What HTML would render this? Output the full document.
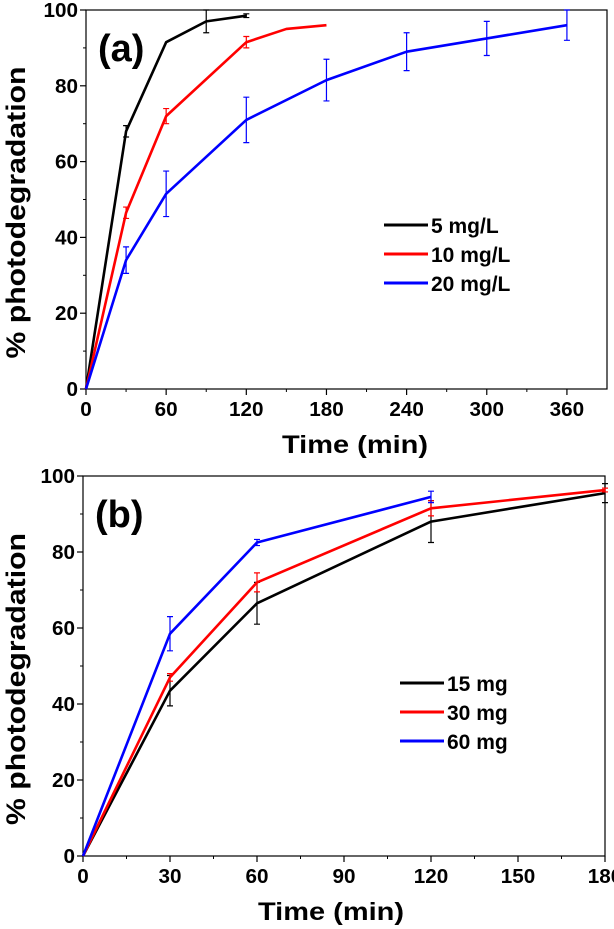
<!DOCTYPE html>
<html><head><meta charset="utf-8">
<style>
body{margin:0;background:#fff;}
svg{display:block;font-family:"Liberation Sans",Arial,sans-serif;font-weight:bold;}
</style></head>
<body>
<svg id="chart" width="614" height="929" viewBox="0 0 614 929"></svg>
<script>
// Panel (a) data
const aSeriesNames = ["5 mg/L","10 mg/L","20 mg/L"];
const aColors = ["#000000","#ff0000","#0000ff"];
const aX = [[0,30,60,90,120],[0,30,60,120,150,180],[0,30,60,120,180,240,300,360]];
const aY = [[0,68,91.5,97,98.5],[0,46.5,72,91.5,95,96],[0,34,51.5,71,81.5,89,92.5,96]];
const aErr = [[0,1.5,0,3,0.5],[0,1.5,2,1.5,0,0],[0,3.5,6,6,5.5,5,4.5,4]];
const aXTicks = [0,60,120,180,240,300,360];
const aYTicks = [0,20,40,60,80,100];
// Panel (b) data
const bSeriesNames = ["15 mg","30 mg","60 mg"];
const bColors = ["#000000","#ff0000","#0000ff"];
const bX = [[0,30,60,120,180],[0,30,60,120,180],[0,30,60,120]];
const bY = [[0,43.5,66.5,88,95.5],[0,47,72,91.5,96.3],[0,58.5,82.5,94.5]];
const bErr = [[0,4,5.5,5.5,2.5],[0,1,2.5,2,0.5],[0,4.5,0.8,1.5]];
const bXTicks = [0,30,60,90,120,150,180];
const bYTicks = [0,20,40,60,80,100];

const NS="http://www.w3.org/2000/svg";
const svg=document.getElementById('chart');
function mk(tag,attrs,parent,text){
  const e=document.createElementNS(NS,tag);
  for(const k in attrs)e.setAttribute(k,attrs[k]);
  if(text!==undefined)e.textContent=text;
  (parent||svg).appendChild(e);return e;
}

function panel(p){
  const g=mk('g',{});
  
  
  const sx=v=>p.x0+(v-0)/(p.xmax)*(p.x1-p.x0);
  const sy=v=>p.y0-(v/100)*(p.y0-p.y1);
  const fr=mk('rect',{x:p.x0,y:p.y1,width:p.x1-p.x0,height:p.y0-p.y1,fill:'none',stroke:'#000','stroke-width':1.2},g);
  
  
  p.xTicks.forEach(t=>{
    const x=sx(t);
    mk('line',{x1:x,x2:x,y1:p.y0,y2:p.y0+6,stroke:'#000','stroke-width':1.2},g);
    const s=String(t);
    const tl=mk('text',{x:x,y:p.y0+27,'text-anchor':'middle','font-size':20,textLength:s.length*11.5,lengthAdjust:'spacingAndGlyphs'},g,s);
    
    
  });
  for(let i=0;i<p.xTicks.length;i++){
    const m=p.xTicks[i]+p.xMinor;
    if(m<p.xmax){const x=sx(m);mk('line',{x1:x,x2:x,y1:p.y0,y2:p.y0+3,stroke:'#000','stroke-width':1},g);}
  }
  p.yTicks.forEach(t=>{
    const y=sy(t);
    mk('line',{x1:p.x0,x2:p.x0-6,y1:y,y2:y,stroke:'#000','stroke-width':1.2},g);
    const s=String(t);
    const tl=mk('text',{x:p.x0-8,y:y+7,'text-anchor':'end','font-size':20,textLength:s.length*11.5,lengthAdjust:'spacingAndGlyphs'},g,s);
    
    
    if(t<100){const ym=sy(t+10);mk('line',{x1:p.x0,x2:p.x0-3,y1:ym,y2:ym,stroke:'#000','stroke-width':1},g);}
  });
  const xt=mk('text',{x:p.xTitleX,y:p.y0+64,'text-anchor':'middle','font-size':25,textLength:146,lengthAdjust:'spacingAndGlyphs'},g,'Time (min)');
  
  
  const yc=(p.y0+p.y1)/2+13;
  const yt=mk('text',{x:0,y:0,'text-anchor':'middle','font-size':27,textLength:292,lengthAdjust:'spacingAndGlyphs',transform:`translate(25,${yc}) rotate(-90)`},g,'% photodegradation');
  
  
  const lab=mk('text',{x:p.x0+12,y:p.y1+51,'font-size':38},g,p.label);
  
  
  p.xs.forEach((xs,s)=>{
    const pts=xs.map((x,i)=>sx(x)+','+sy(p.ys[s][i])).join(' ');
    const pl=mk('polyline',{points:pts,fill:'none',stroke:p.colors[s],'stroke-width':2.6,'stroke-linejoin':'round'},g);
    
    
    xs.forEach((x,i)=>{
      const e=p.errs[s][i]; if(!e)return;
      const cx=sx(x),ya=sy(p.ys[s][i]+e),yb=sy(p.ys[s][i]-e);
      const eb=mk('path',{d:`M${cx},${ya}V${yb}M${cx-3},${ya}H${cx+3}M${cx-3},${yb}H${cx+3}`,stroke:p.colors[s],'stroke-width':1.2,fill:'none'},g);
      
      
    });
    const ly=p.legY+s*29;
    const ll=mk('line',{x1:p.legX,x2:p.legX+44,y1:ly,y2:ly,stroke:p.colors[s],'stroke-width':3},g);
    
    
    const lt=mk('text',{x:p.legX+47,y:ly+8,'font-size':21},g,p.names[s]);
    
    
  });
}
panel({id:'panel-a',label:'(a)',x0:86,x1:607,y0:389,y1:10,xmax:390,xMinor:30,xTitleX:355,
  xTicks:aXTicks,yTicks:aYTicks,xs:aX,ys:aY,errs:aErr,colors:aColors,names:aSeriesNames,legX:384,legY:225});
panel({id:'panel-b',label:'(b)',x0:83,x1:605,y0:856,y1:476,xmax:180,xMinor:15,xTitleX:331,
  xTicks:bXTicks,yTicks:bYTicks,xs:bX,ys:bY,errs:bErr,colors:bColors,names:bSeriesNames,legX:400,legY:683});
</script>
</body></html>
